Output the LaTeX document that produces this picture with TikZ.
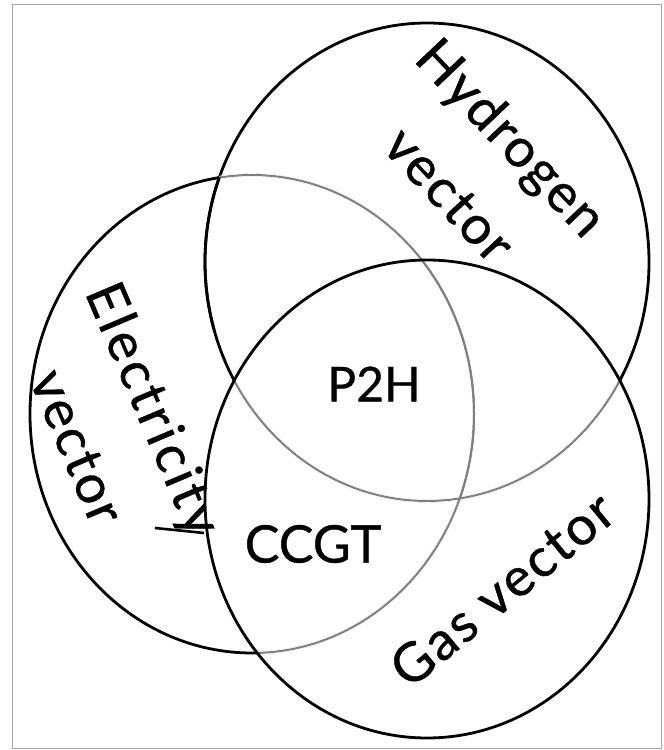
\documentclass[tikz,border=0pt]{standalone}
\usepackage{fontspec}
\setmainfont{Lato}
\newfontfamily\vennfont{Lato}[FakeBold=0.7]
\newfontfamily\vennwide{Lato}[FakeBold=0.7, LetterSpace=4]
\newfontfamily\vennwider{Lato}[FakeBold=0.7, LetterSpace=6]
\begin{document}
\begin{tikzpicture}[x=1pt,y=1pt,
  ring/.style={line width=2.8pt, black},
  wipe/.style={line width=3.6pt, white},
  innerarc/.style={line width=2pt, black!50},
  lbl/.style={inner sep=0pt, font=\vennwide\fontsize{54}{54}\selectfont},
  core/.style={inner sep=0pt, font=\vennfont\fontsize{48}{48}\selectfont}]
\useasboundingbox (0,0) rectangle (664,750);
% frame
\draw[black!35, line width=1pt] (12,1) rectangle (661,745);
% centres of the three vectors
\coordinate (H) at (427,488);
\coordinate (E) at (252,336);
\coordinate (G) at (427,251);
\def\venn{ellipse [x radius=222pt, y radius=239pt]}
% outer outlines
\draw[ring] (H) \venn;
\draw[ring] (E) \venn;
% clear the inner arcs
\begin{scope}
  \clip (G) \venn;
  \draw[wipe] (E) \venn;
  \draw[wipe] (H) \venn;
\end{scope}
\begin{scope}
  \clip (H) \venn;
  \draw[wipe] (E) \venn;
\end{scope}
% inner arcs in grey
\begin{scope}
  \clip (G) \venn;
  \draw[innerarc] (E) \venn;
  \draw[innerarc] (H) \venn;
\end{scope}
\begin{scope}
  \clip (H) \venn;
  \draw[innerarc] (E) \venn;
\end{scope}
% restore the hydrogen outline where it crosses the electricity set
\begin{scope}
  \clip (E) \venn;
  \clip (0,420) rectangle (664,750);
  \draw[ring] (H) \venn;
\end{scope}
% gas outline on top
\draw[ring] (G) \venn;
% labels
\node[lbl, rotate=-46.5] (hyd) at (509,610) {Hydrogen};
\node[lbl, rotate=-47] (hydv) at (449,555) {vector};
\node[lbl, rotate=-67, font=\vennwider\fontsize{54}{54}\selectfont] (ele) at (151,340) {Electricity};
\node[lbl, rotate=-67] (elev) at (77,303) {vector};
\node[lbl, rotate=39.5] (gas) at (502,161) {Gas vector};
\node[core] (p2h) at (374,366) {P2H};
\node[core, font=\vennfont\fontsize{52}{52}\selectfont] (ccgt) at (313,206) {CCGT};
% stroke under the end of "Electricity"
\coordinate (tickA) at (155,222);
\coordinate (tickB) at (204,217);
\draw[line width=2.6pt] (tickA) -- (tickB);
\end{tikzpicture}
\end{document}
